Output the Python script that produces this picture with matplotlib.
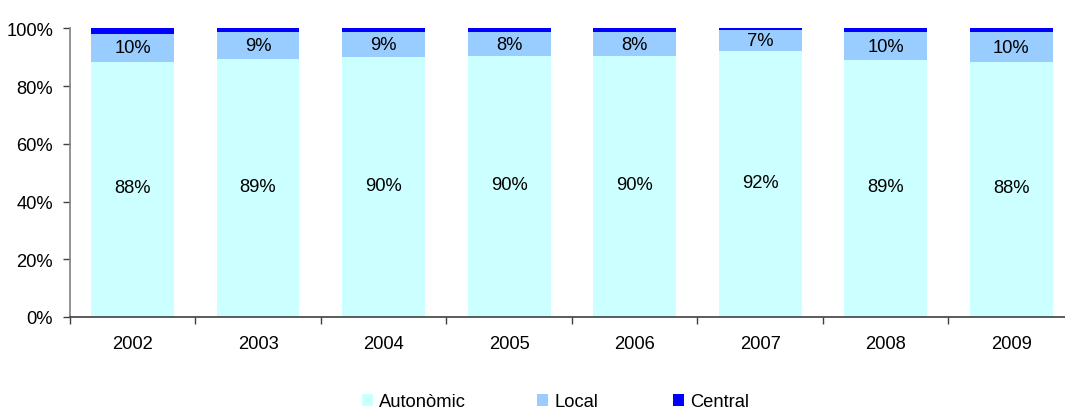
import matplotlib
matplotlib.use("Agg")
import matplotlib.pyplot as plt
import numpy as np

years = ["2002", "2003", "2004", "2005", "2006", "2007", "2008", "2009"]
autonomic = [88.4, 89.4, 90.1, 90.4, 90.4, 92.0, 89.0, 88.2]
local = [9.6, 9.3, 8.6, 8.3, 8.3, 7.3, 9.7, 10.4]
central = [2.0, 1.3, 1.3, 1.3, 1.3, 0.7, 1.3, 1.4]
series_names = ["Autonòmic", "Local", "Central"]
colors = ["#CCFFFF", "#99CCFF", "#0000FF"]

plt.rcParams['font.family'] = ['Liberation Sans', 'DejaVu Sans']
FS = 13.2

fig = plt.figure(figsize=(10.65, 4.10), dpi=100)
ax = fig.add_axes([69.7 / 1065, 1 - 318 / 410, (1074 - 69.7) / 1065, (318 - 29.3) / 410])

x = np.arange(len(years))
w = 0.66
a = np.array(autonomic)
l = np.array(local)
c = np.array(central)
b1 = ax.bar(x, a, w, color=colors[0], label=series_names[0])
b2 = ax.bar(x, l, w, bottom=a, color=colors[1], label=series_names[1])
b3 = ax.bar(x, c, w, bottom=a + l, color=colors[2], label=series_names[2])

for i in range(len(years)):
    ax.text(x[i], a[i] / 2 + 0.6, f"{round(a[i])}%", ha='center', va='center', fontsize=FS, color='black')
    ax.text(x[i], a[i] + l[i] / 2, f"{round(l[i])}%", ha='center', va='center', fontsize=FS, color='black')

ax.set_xlim(-0.5, len(years) - 0.5)
ax.set_ylim(0, 100)
ax.set_yticks(np.arange(0, 101, 20))
ax.set_yticklabels([f"{v}%" for v in range(0, 101, 20)], fontsize=FS)
ax.tick_params(axis='y', direction='out', length=5, width=1, color='#404040', pad=7)

ax.set_xticks(np.arange(-0.5, len(years), 1.0))
ax.set_xticklabels([])
ax.tick_params(axis='x', which='major', direction='out', length=5, width=1, color='#404040')
ax.set_xticks(x, minor=True)
ax.set_xticklabels(years, minor=True, fontsize=FS)
ax.tick_params(axis='x', which='minor', length=0, pad=13)

for s in ['top', 'right']:
    ax.spines[s].set_visible(False)
ax.spines['left'].set_color('#808080')
ax.spines['bottom'].set_color('#404040')
ax.spines['left'].set_linewidth(1.2)
ax.spines['bottom'].set_linewidth(1.2)

legend_x = [362, 537, 673]
for h, name, lx in zip([b1, b2, b3], series_names, legend_x):
    fig.legend(handles=[h], labels=[name], loc='center left', bbox_to_anchor=(lx / 1065, 1 - 403 / 410),
               frameon=False, fontsize=FS, handlelength=0.6, handleheight=0.6,
               handletextpad=0.35, borderpad=0, borderaxespad=0)

fig.savefig("out.png", dpi=100)
